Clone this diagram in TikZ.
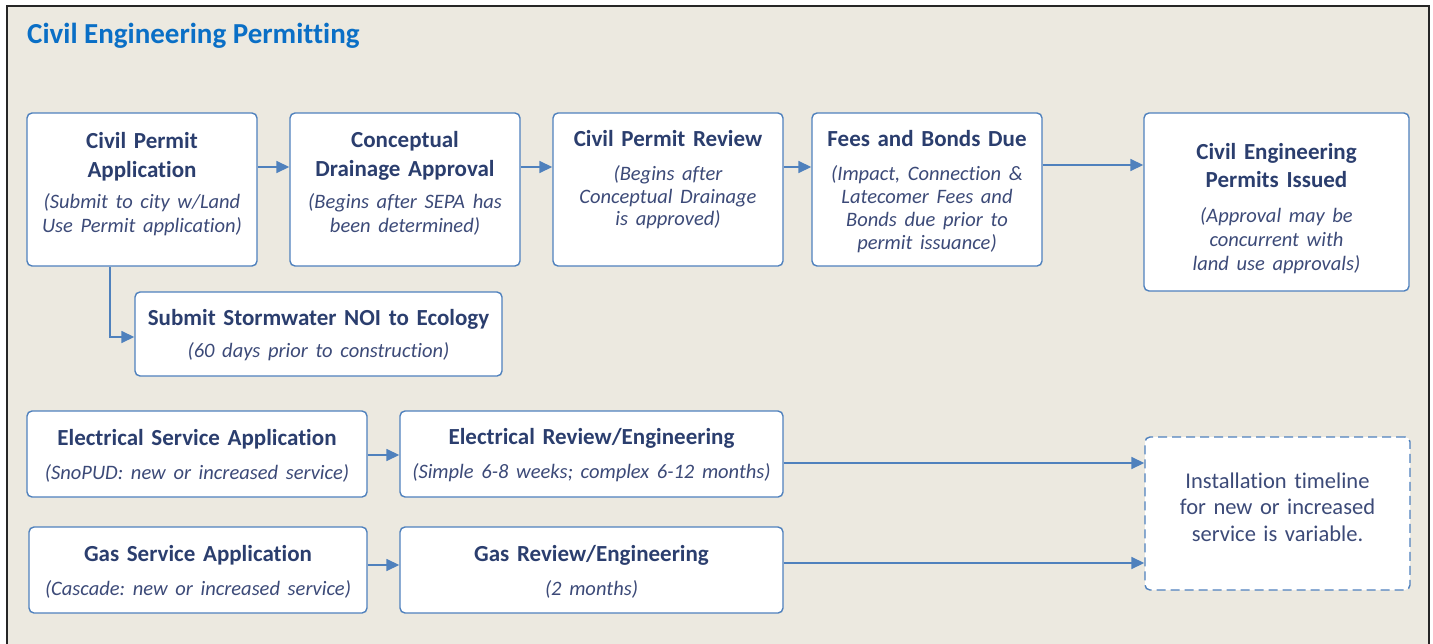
\documentclass[tikz,border=0pt]{standalone}
\usepackage{fontspec}
\setmainfont{Carlito}[Ligatures=CommonOff]
\usetikzlibrary{arrows.meta}
\frenchspacing
\definecolor{bg}{HTML}{ECE9E0}
\definecolor{bcol}{HTML}{4F81BD}
\definecolor{ttlcol}{HTML}{2B3E6E}
\definecolor{itcol}{HTML}{3C4A78}
\definecolor{headcol}{HTML}{0A6FC6}
\newcommand\bxt[1]{{\bfseries\color{ttlcol}#1}}
\newcommand\bxi[1]{{\itshape\color{itcol}\fontsize{20.5}{24}\selectfont#1}}
\newcommand\dpt[1]{\rule[-#1]{0pt}{#1}}
\newcommand\hpt[1]{\rule{0pt}{#1}}
\tikzset{
  box/.style={draw=bcol, line width=1.4pt, rounded corners=5pt, fill=white, align=center, inner sep=0pt, anchor=center,
    font=\fontsize{23}{24}\selectfont},
  dbox/.style={box, dashed, dash pattern=on 9pt off 5pt},
  arr/.style={draw=bcol, line width=1.6pt, -{Triangle[length=13pt,width=12pt]}},
  x=1pt, y=-1pt
}
\begin{document}
\begin{tikzpicture}
\useasboundingbox (0,0) rectangle (1433,643);
\fill[white] (0,0) rectangle (1433,643);
\fill[bg] (7,6) rectangle (1429,650);
\draw[line width=1.8pt, black!85] (7,650) -- (7,6) -- (1429,6) -- (1429,650);
\node[anchor=base west, inner sep=0pt, font=\bfseries\fontsize{29}{30}\selectfont, text=headcol] (title) at (27,43) {Civil Engineering Permitting};

\node[box, text width=230pt, minimum height=153pt] (a) at (142,189.5)
  {\bxt{Civil Permit\\[5pt]Application}\\[7.5pt]\bxi{(Submit to city w/Land\\Use Permit application)\dpt{14pt}}};
\node[box, text width=230pt, minimum height=153pt] (b) at (405,189.5)
  {\bxt{Conceptual\\[5pt]Drainage Approval}\\[7.5pt]\bxi{(Begins after SEPA has\\been determined)\dpt{15pt}}};
\node[box, text width=230pt, minimum height=153pt, font=\fontsize{23}{22.5}\selectfont] (c) at (668,189.5)
  {\bxt{Civil Permit Review}\\[11.5pt]{\itshape\color{itcol}\fontsize{20.5}{22.5}\selectfont(Begins after\\Conceptual Drainage\\is approved)\dpt{23pt}}};
\node[box, text width=230pt, minimum height=153pt, font=\fontsize{23}{23}\selectfont] (d) at (927,189.5)
  {\bxt{\hpt{21pt}Fees and Bonds Due}\\[11pt]{\itshape\color{itcol}\fontsize{20.5}{23}\selectfont(Impact, Connection \&\\Latecomer Fees and\\Bonds due prior to\\permit issuance)}};
\node[box, text width=265pt, minimum height=178pt] (e) at (1276.5,202)
  {\bxt{\hpt{29.5pt}Civil Engineering\\[4pt]Permits Issued}\\[11pt]\bxi{(Approval may be\\concurrent with\\land use approvals)}};
\node[box, text width=367pt, minimum height=84pt] (f) at (318.5,334)
  {\bxt{\hpt{19pt}Submit Stormwater NOI to Ecology}\\[8pt]\bxi{(60 days prior to construction)}};
\node[box, text width=340pt, minimum height=86pt] (g) at (197,454)
  {\bxt{\hpt{19pt}Electrical Service Application}\\[10pt]\bxi{(SnoPUD: new or increased service)}};
\node[box, text width=383pt, minimum height=86pt] (h) at (591.5,454)
  {\bxt{\hpt{19pt}Electrical Review/Engineering}\\[10pt]\bxi{(Simple 6-8 weeks; complex 6-12 months)}};
\node[box, text width=338pt, minimum height=86pt] (i) at (198,570)
  {\bxt{\hpt{19pt}Gas Service Application}\\[10pt]\bxi{(Cascade: new or increased service)}};
\node[box, text width=383pt, minimum height=86pt] (j) at (591.5,570)
  {\bxt{\hpt{19pt}Gas Review/Engineering}\\[10pt]\bxi{(2 months)}};
\node[dbox, text width=265pt, minimum height=153pt, font=\fontsize{22.5}{26.5}\selectfont, text=itcol] (k) at (1277.5,513.5)
  {Installation timeline\\for new or increased\\service is variable.\dpt{13pt}};

\draw[arr] (a.east |- 0,167) -- (b.west |- 0,167);
\draw[arr] (b.east |- 0,167) -- (c.west |- 0,167);
\draw[arr] (c.east |- 0,167) -- (d.west |- 0,167);
\draw[arr] (d.east |- 0,165) -- (e.west |- 0,165);
\draw[arr] (a.south -| 110,0) |- (f.west |- 0,337);
\draw[arr] (g.east |- 0,455) -- (h.west |- 0,455);
\draw[arr] (i.east |- 0,565) -- (j.west |- 0,565);
\draw[arr] (h.east |- 0,463) -- (k.west |- 0,463);
\draw[arr] (j.east |- 0,563) -- (k.west |- 0,563);
\end{tikzpicture}
\end{document}
